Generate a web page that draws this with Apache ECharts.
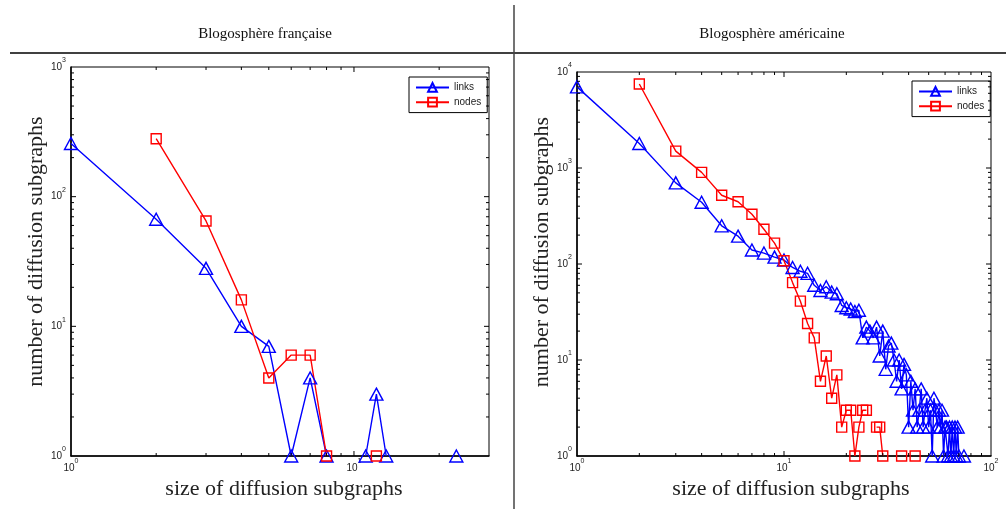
<!DOCTYPE html>
<html>
<head>
<meta charset="utf-8">
<title>Blogosphères – diffusion subgraphs</title>
<script src="https://cdn.jsdelivr.net/npm/echarts@6/dist/echarts.min.js"></script>
<style>
    html, body { margin: 0; padding: 0; background: #fff; }
    #main { width: 1006px; height: 509px; }
</style>
</head>
<body>
<div id="main"></div>
<script>
    // Blogosphère française (null = trou dans la courbe)
    const frLinkSize = [1, 2, 3, 4, 5, 6, 7, 8, 9, 11, 12, 13, 14, 23];
    const frLinkCount = [257, 67, 28, 10, 7, 1, 4, 1, null, 1, 3, 1, null, 1];
    const frNodeSize = [2, 3, 4, 5, 6, 7, 8, 9, 12];
    const frNodeCount = [280, 65, 16, 4, 6, 6, 1, null, 1];

    // Blogosphère américaine
    const usLinkSize = [1, 2, 3, 4, 5, 6, 7, 8, 9, 10, 11, 12, 13, 14, 15, 16, 17, 18, 19, 20,
        21, 22, 23, 24, 25, 26, 27, 28, 29, 30, 31, 32, 33, 34, 35, 36, 37, 38, 39, 40,
        41, 42, 43, 44, 45, 46, 47, 48, 49, 50, 51, 52, 53, 54, 55, 56, 57, 58, 59, 60,
        61, 62, 63, 64, 65, 66, 67, 68, 69, 70, 71, 74];
    const usLinkCount = [7000, 1800, 700, 440, 250, 195, 140, 130, 118, 110, 92, 84, 80, 60, 53, 58, 51, 49, 37, 35,
        34, 32, 33, 17, 22, 20, 17, 22, 11, 20, 8, 14, 15, 10, 6, 10, 5, 9, 7, 2,
        6, 3, 5, 2, 3, 5, 2, 3, 4, 2, 3, 1, 4, 3, 2, 3, 2, 3, 1, 2,
        2, 1, 2, 1, 2, 1, 2, 1, 2, 1, null, 1];
    const usNodeSize = [2, 3, 4, 5, 6, 7, 8, 9, 10, 11, 12, 13, 14, 15, 16, 17, 18, 19, 20,
        21, 22, 23, 24, 25, 26, 28, 29, 30, 31, 37, 38, 43];
    const usNodeCount = [7500, 1500, 900, 520, 445, 330, 230, 165, 108, 64, 41, 24, 17, 6, 11, 4, 7, 2, 3,
        3, 1, 2, 3, 3, null, 2, 2, 1, null, 1, null, 1];

    const panelTitles = ['Blogosphère française', 'Blogosphère américaine'];
    const seriesNames = ['links', 'nodes'];
    const xTitle = 'size of diffusion subgraphs';
    const yTitle = 'number of diffusion subgraphs';

    const BLUE = '#0000ff';
    const RED = '#ff0000';

    function pairs(xs, ys) {
        return xs.map((x, i) => [x, ys[i]]);
    }

    // étiquettes 10^n
    function powLabel(v) {
        let e = Math.log10(v);
        if (Math.abs(e - Math.round(e)) > 1e-6) return '';
        return '{b|10}{e|' + Math.round(e) + '}';
    }
    const labelRich = {
        b: {fontFamily: 'Liberation Sans', fontSize: 10, color: '#222', lineHeight: 20},
        e: {fontFamily: 'Liberation Sans', fontSize: 7, color: '#222', lineHeight: 8, verticalAlign: 'top'}
    };

    // graduations log (majeures = puissances de 10, mineures = 2..9)
    function logTicks(lo, hi, major) {
        let out = [];
        for (let d = 1; d < hi; d *= 10) {
            for (let m = 1; m <= 9; m++) {
                let v = m * d;
                if (v > lo && v < hi && ((m === 1) === major)) out.push(v);
            }
        }
        return out;
    }

    function tickSeries(grid, dir, values, len) {
        return {
            type: 'custom',
            xAxisIndex: grid,
            yAxisIndex: grid,
            silent: true,
            z: 5,
            data: values.map(v => dir === 'x' ? [v, 1] : [1, v]),
            renderItem: function (params, api) {
                let cs = params.coordSys;
                let p = api.coord([api.value(0), api.value(1)]);
                let st = {stroke: '#000', lineWidth: 1};
                if (dir === 'x') {
                    return {type: 'group', children: [
                        {type: 'line', shape: {x1: p[0], y1: cs.y + cs.height, x2: p[0], y2: cs.y + cs.height - len}, style: st},
                        {type: 'line', shape: {x1: p[0], y1: cs.y, x2: p[0], y2: cs.y + len}, style: st}
                    ]};
                }
                return {type: 'group', children: [
                    {type: 'line', shape: {x1: cs.x, y1: p[1], x2: cs.x + len, y2: p[1]}, style: st},
                    {type: 'line', shape: {x1: cs.x + cs.width, y1: p[1], x2: cs.x + cs.width - len, y2: p[1]}, style: st}
                ]};
            }
        };
    }

    function lineSeries(grid, name, color, symbol, size, data) {
        return {
            name: name,
            type: 'line',
            xAxisIndex: grid,
            yAxisIndex: grid,
            data: data,
            symbol: symbol,
            symbolSize: size,
            showAllSymbol: true,
            connectNulls: false,
            lineStyle: {color: color, width: 1.4},
            itemStyle: {color: 'rgba(0,0,0,0)', borderColor: color, borderWidth: 1.4},
            emphasis: {disabled: true},
            z: 3
        };
    }

    function xAxisOpt(grid, max, namePad) {
        return {
            gridIndex: grid, type: 'log', logBase: 10, min: 1, max: max,
            axisLine: {show: true, lineStyle: {color: '#000', width: 1.5}},
            axisTick: {show: false},
            splitLine: {show: false},
            axisLabel: {formatter: powLabel, rich: labelRich, margin: 2, showMaxLabel: true},
            name: xTitle, nameLocation: 'middle', nameGap: 21,
            nameTextStyle: {fontFamily: 'Liberation Serif', fontSize: 22, color: '#222', padding: [0, 0, 0, namePad]}
        };
    }

    function yAxisOpt(grid, max, namePad) {
        return {
            gridIndex: grid, type: 'log', logBase: 10, min: 1, max: max,
            axisLine: {show: true, lineStyle: {color: '#000', width: 1.5}},
            axisTick: {show: false},
            splitLine: {show: false},
            axisLabel: {formatter: powLabel, rich: labelRich, margin: 5},
            name: yTitle, nameLocation: 'middle', nameGap: 23, nameRotate: 90,
            nameTextStyle: {fontFamily: 'Liberation Serif', fontSize: 22, color: '#222', padding: [0, 0, 0, namePad]}
        };
    }

    function legendOpt(left, top) {
        return {
            left: left, top: top, orient: 'vertical',
            data: seriesNames,
            itemWidth: 33, itemHeight: 11, itemGap: 4,
            padding: [5, 6, 5, 6],
            borderColor: '#000', borderWidth: 1, backgroundColor: '#fff',
            selectedMode: false,
            textStyle: {fontFamily: 'Liberation Sans', fontSize: 10, color: '#222'}
        };
    }

    let chart = echarts.init(document.getElementById('main'));
    chart.setOption({
        backgroundColor: '#fff',
        animation: false,
        title: [
            {text: panelTitles[0], left: 260, top: 22, textAlign: 'center',
                textStyle: {fontFamily: 'Liberation Serif', fontSize: 15, fontWeight: 'normal', color: '#111'}},
            {text: panelTitles[1], left: 767, top: 22, textAlign: 'center',
                textStyle: {fontFamily: 'Liberation Serif', fontSize: 15, fontWeight: 'normal', color: '#111'}}
        ],
        graphic: [
            {type: 'line', shape: {x1: 10, y1: 53, x2: 1006, y2: 53}, style: {stroke: '#000', lineWidth: 1.5}},
            {type: 'line', shape: {x1: 514, y1: 5, x2: 514, y2: 509}, style: {stroke: '#444', lineWidth: 1.5}}
        ],
        legend: [legendOpt(409, 77), legendOpt(912, 81)],
        grid: [
            {left: 71, top: 67, width: 418, height: 389, show: true, borderColor: '#000', borderWidth: 1},
            {left: 577, top: 72, width: 414, height: 384, show: true, borderColor: '#000', borderWidth: 1}
        ],
        xAxis: [xAxisOpt(0, 30, 8), xAxisOpt(1, 100, 14)],
        yAxis: [yAxisOpt(0, 1000, 20), yAxisOpt(1, 10000, 24)],
        series: [
            lineSeries(0, 'links', BLUE, 'triangle', [13, 12], pairs(frLinkSize, frLinkCount)),
            lineSeries(0, 'nodes', RED, 'rect', 10, pairs(frNodeSize, frNodeCount)),
            lineSeries(1, 'links', BLUE, 'triangle', [13, 12], pairs(usLinkSize, usLinkCount)),
            lineSeries(1, 'nodes', RED, 'rect', 10, pairs(usNodeSize, usNodeCount)),
            tickSeries(0, 'x', logTicks(1, 30, true), 5),
            tickSeries(0, 'x', logTicks(1, 30, false), 3),
            tickSeries(0, 'y', logTicks(1, 1000, true), 5),
            tickSeries(0, 'y', logTicks(1, 1000, false), 3),
            tickSeries(1, 'x', logTicks(1, 100, true), 5),
            tickSeries(1, 'x', logTicks(1, 100, false), 3),
            tickSeries(1, 'y', logTicks(1, 10000, true), 5),
            tickSeries(1, 'y', logTicks(1, 10000, false), 3)
        ]
    });
</script>
</body>
</html>
